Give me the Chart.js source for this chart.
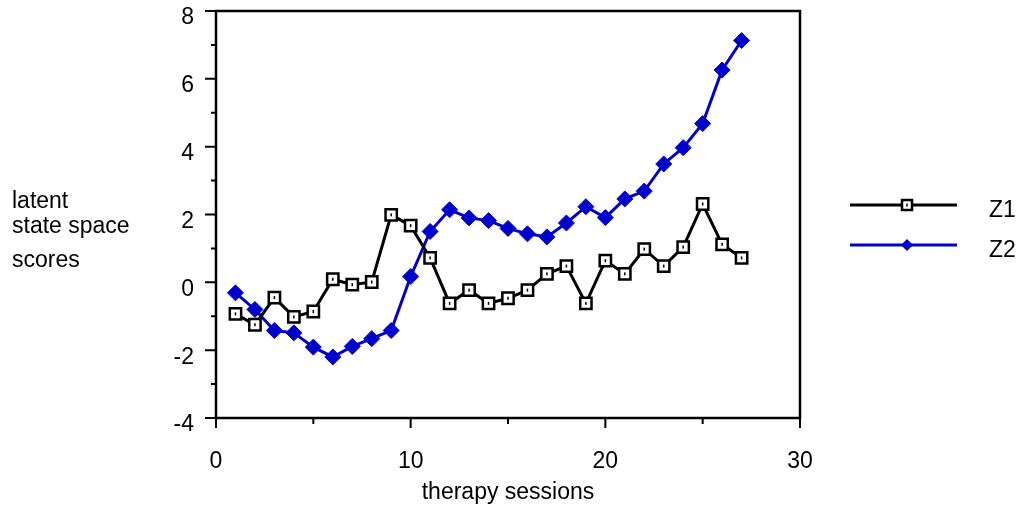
<!DOCTYPE html>
<html>
<head>
<meta charset="utf-8">
<script src="https://cdn.jsdelivr.net/npm/chart.js@4.4.1/dist/chart.umd.min.js"></script>
<style>
  html, body { margin: 0; padding: 0; background: #fff; }
  #wrap { width: 1023px; height: 508px; position: relative; }
</style>
</head>
<body>
<div id="wrap"><canvas id="chart" width="1023" height="508"></canvas></div>
<script>
const sessions = [1, 2, 3, 4, 5, 6, 7, 8, 9, 10, 11, 12, 13, 14, 15, 16, 17, 18, 19, 20, 21, 22, 23, 24, 25, 26, 27];
const z1 = [-0.93, -1.25, -0.45, -1.02, -0.86, 0.09, -0.07, 0.01, 1.99, 1.67, 0.72, -0.62, -0.23, -0.62, -0.47,
            -0.23, 0.25, 0.48, -0.62, 0.64, 0.25, 0.98, 0.48, 1.04, 2.31, 1.12, 0.72];
const z2 = [-0.31, -0.80, -1.42, -1.49, -1.91, -2.20, -1.89, -1.66, -1.42, 0.17, 1.50, 2.14, 1.90, 1.82, 1.59,
            1.43, 1.34, 1.75, 2.23, 1.91, 2.46, 2.69, 3.49, 3.97, 4.68, 6.26, 7.13];
const seriesNames = ["Z1", "Z2"];
const yTitleLines = ["latent", "state space", "scores"];
const xTitle = "therapy sessions";

const FONT = "'Liberation Sans', Arial, Helvetica, sans-serif";
const FSIZE = 23;
const BLUE = "#0000cc";

function toPoints(ys) {
    return sessions.map((s, i) => ({ x: s, y: ys[i] }));
}

// frame, tick marks, y title, legend, dots inside the squares
const decor = {
    id: "decor",
    afterDraw(chart) {
        const c = chart.ctx;
        const a = chart.chartArea;
        const xs = chart.scales.x, ys = chart.scales.y;
        c.save();
        c.strokeStyle = "#000";
        c.lineWidth = 2.5;
        c.strokeRect(a.left, a.top, a.right - a.left, a.bottom - a.top);

        c.lineWidth = 2;
        c.beginPath();
        for (let v = 0; v <= 30; v += 5) {
            const px = xs.getPixelForValue(v);
            const len = v % 10 === 0 ? 10 : 6;
            c.moveTo(px, a.bottom);
            c.lineTo(px, a.bottom + len);
        }
        for (let v = -4; v <= 8; v += 1) {
            const py = ys.getPixelForValue(v);
            const len = v % 2 === 0 ? 11 : 5;
            c.moveTo(a.left, py);
            c.lineTo(a.left - len, py);
        }
        c.stroke();

        // y title, three lines
        c.fillStyle = "#000";
        c.font = FSIZE + "px " + FONT;
        c.textAlign = "left";
        c.textBaseline = "alphabetic";
        const baselines = [208, 233, 267];
        yTitleLines.forEach((t, i) => c.fillText(t, 12, baselines[i]));

        // dots in Z1 squares
        chart.getDatasetMeta(0).data.forEach(p => {
            c.fillRect(p.x - 0.75, p.y - 1.5, 1.5, 3);
        });

        // legend
        const rows = [
            { y: 205, color: "#000", name: seriesNames[0] },
            { y: 245, color: BLUE, name: seriesNames[1] }
        ];
        rows.forEach((r, i) => {
            c.strokeStyle = r.color;
            c.lineWidth = 3;
            c.beginPath();
            c.moveTo(850, r.y);
            c.lineTo(957, r.y);
            c.stroke();
            if (i === 0) {
                c.fillStyle = "#fff";
                c.fillRect(902, r.y - 5, 10, 10);
                c.strokeStyle = "#000";
                c.lineWidth = 2.5;
                c.strokeRect(902, r.y - 5, 10, 10);
                c.fillStyle = "#000";
                c.fillRect(906.25, r.y - 1.5, 1.5, 3);
            } else {
                c.fillStyle = BLUE;
                c.beginPath();
                c.moveTo(907, r.y - 6);
                c.lineTo(913, r.y);
                c.lineTo(907, r.y + 6);
                c.lineTo(901, r.y);
                c.closePath();
                c.fill();
            }
            c.fillStyle = "#000";
            c.font = FSIZE + "px " + FONT;
            c.textBaseline = "middle";
            c.fillText(r.name, 989, r.y + 6);
        });
        c.restore();
    }
};

new Chart(document.getElementById("chart"), {
    type: "line",
    data: {
        datasets: [
            {
                label: seriesNames[0],
                data: toPoints(z1),
                borderColor: "#000",
                borderWidth: 3,
                pointStyle: "rect",
                pointRadius: 8,
                pointBackgroundColor: "#fff",
                pointBorderColor: "#000",
                pointBorderWidth: 2.5,
                tension: 0
            },
            {
                label: seriesNames[1],
                data: toPoints(z2),
                borderColor: BLUE,
                borderWidth: 3,
                pointStyle: "rectRot",
                pointRadius: 8,
                pointBackgroundColor: BLUE,
                pointBorderColor: BLUE,
                pointBorderWidth: 1,
                tension: 0
            }
        ]
    },
    options: {
        responsive: false,
        animation: false,
        layout: { padding: { top: 11, right: 223, bottom: 0, left: 0 } },
        plugins: { legend: { display: false }, tooltip: { enabled: false } },
        scales: {
            x: {
                type: "linear",
                min: 0,
                max: 30,
                grid: { display: false, drawTicks: false },
                border: { display: false },
                ticks: { stepSize: 10, color: "#000", padding: 30, font: { family: FONT, size: FSIZE } },
                title: { display: true, text: xTitle, color: "#000", font: { family: FONT, size: FSIZE }, padding: { top: 0, bottom: 2 } },
                afterFit(scale) { scale.height = 90; scale.paddingLeft = 0; scale.paddingRight = 0; }
            },
            y: {
                min: -4,
                max: 8,
                grid: { display: false, drawTicks: false },
                border: { display: false },
                ticks: { stepSize: 2, color: "#000", padding: 22, labelOffset: 7, font: { family: FONT, size: FSIZE } },
                afterFit(scale) { scale.width = 216; scale.paddingTop = 0; scale.paddingBottom = 0; }
            }
        }
    },
    plugins: [decor]
});
</script>
</body>
</html>
